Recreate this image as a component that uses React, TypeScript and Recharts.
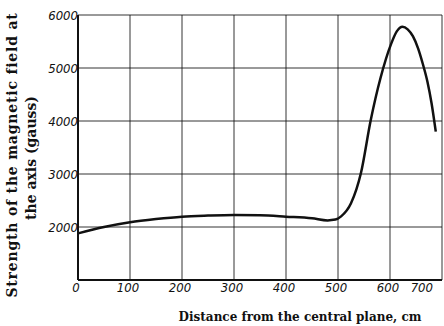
import { LineChart, Line, XAxis, YAxis, CartesianGrid } from "recharts";

// distance from the central plane (cm) and field strength on the axis (gauss)
const distance = [0, 50, 100, 150, 200, 250, 300, 350, 400, 450, 480, 495, 506, 525, 544, 563, 582, 602, 613, 624, 634, 644, 654, 663, 672, 680, 688];
const strength = [1880, 2000, 2090, 2150, 2195, 2215, 2226, 2220, 2195, 2165, 2125, 2140, 2200, 2447, 3013, 4019, 4820, 5450, 5690, 5780, 5730, 5600, 5370, 5080, 4740, 4330, 3800];

const xTicks = [0, 100, 200, 300, 400, 500, 600, 700];
const yTicks = [1000, 2000, 3000, 4000, 5000, 6000];

const data = distance.map((d, i) => ({ d, b: strength[i] }));

const ink = "#111";
const tickFont = {
  fontFamily: "'DejaVu Sans Condensed', 'DejaVu Sans', sans-serif",
  fontStyle: "italic",
  fontSize: 13,
  fill: ink,
};
const titleFont = "'DejaVu Serif', serif";

const XTick = (props: any) => {
  const { x, y, payload } = props;
  const last = payload.value === 700;
  return (
    <text
      x={last ? x + 1 : x - 2}
      y={y}
      dy={10}
      textAnchor={last ? "end" : "middle"}
      {...tickFont}
    >
      {payload.value}
    </text>
  );
};

const YTick = (props: any) => {
  const { x, y, payload } = props;
  if (payload.value === 1000) return null;
  return (
    <text x={x + 1} y={y} dy={5} textAnchor="end" {...tickFont}>
      {payload.value}
    </text>
  );
};

export default function App() {
  return (
    <div style={{ position: "absolute", left: 0, top: 0, background: "#fff" }}>
      <LineChart
        width={444}
        height={326}
        data={data}
        margin={{ left: 0, right: 2, top: 15, bottom: 0 }}
      >
        <CartesianGrid stroke={ink} strokeWidth={1} strokeOpacity={0.85} />
        <XAxis
          dataKey="d"
          type="number"
          domain={[0, 700]}
          ticks={xTicks}
          height={46}
          tickLine={false}
          tickSize={0}
          tick={<XTick />}
          axisLine={{ stroke: ink, strokeWidth: 2 }}
          label={{
            content: () => (
              <text
                x={300}
                y={321}
                textAnchor="middle"
                fontFamily={titleFont}
                fontWeight="bold"
                fontSize={12}
                fill={ink}
              >
                Distance from the central plane, cm
              </text>
            ),
          }}
        />
        <YAxis
          type="number"
          domain={[1000, 6000]}
          ticks={yTicks}
          width={78}
          tickLine={false}
          tickSize={0}
          tickMargin={1}
          tick={<YTick />}
          axisLine={{ stroke: ink, strokeWidth: 2 }}
          label={{
            content: () => (
              <g fontFamily={titleFont} fontWeight="bold" fontSize={14} fill={ink}>
                <text
                  x={17}
                  y={155}
                  textAnchor="middle"
                  letterSpacing={0.8}
                  transform="rotate(-90 17 155)"
                >
                  Strength of the magnetic field at
                </text>
                <text x={36} y={158} textAnchor="middle" transform="rotate(-90 36 158)">
                  the axis (gauss)
                </text>
              </g>
            ),
          }}
        />
        <Line
          dataKey="b"
          type="monotone"
          stroke={ink}
          strokeWidth={2.5}
          dot={false}
          isAnimationActive={false}
        />
      </LineChart>
    </div>
  );
}
